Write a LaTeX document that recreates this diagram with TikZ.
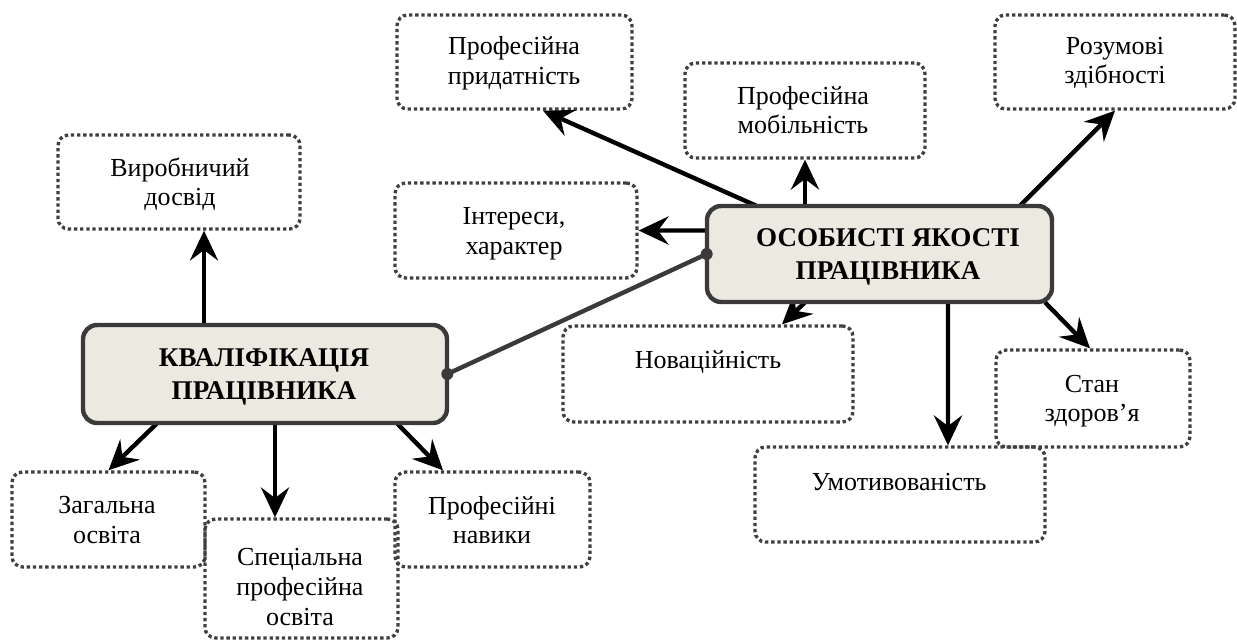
\documentclass[tikz,border=0pt]{standalone}
\usepackage{fontspec}
\setmainfont{Liberation Serif}
\usetikzlibrary{arrows.meta,calc}
\definecolor{mainfill}{RGB}{236,234,224}
\definecolor{mainedge}{RGB}{58,58,58}
\definecolor{dotedge}{RGB}{64,64,64}
\tikzset{
  dbox/.style={draw=dotedge, line width=1.9pt, dash pattern=on 1.9pt off 1.6pt, rounded corners=6pt, inner sep=0pt},
  mbox/.style={draw=mainedge, fill=mainfill, line width=2.5pt, rounded corners=8pt, inner sep=0pt},
  txt/.style={align=center, font=\fontsize{14.8pt}{16.8pt}\selectfont, inner sep=0pt},
  btxt/.style={align=center, font=\fontsize{15.4pt}{19pt}\selectfont\bfseries, inner sep=0pt},
  arr/.style={line width=2.5pt, -{Stealth[length=17pt,width=16pt,inset=6pt]}},
  link/.style={draw=mainedge, line width=2.5pt},
}
\begin{document}
\begin{tikzpicture}[x=0.02cm,y=-0.02cm]
\useasboundingbox (0,0) rectangle (1237,639);
% dotted boxes
\node[dbox, minimum width=4.70cm, minimum height=1.88cm] (pp) at (514.5,62) {};
\node[dbox, minimum width=4.80cm, minimum height=1.90cm] (pm) at (805,110.5) {};
\node[dbox, minimum width=4.80cm, minimum height=1.88cm] (rz) at (1115,62) {};
\node[dbox, minimum width=4.84cm, minimum height=1.88cm] (vd) at (179,182) {};
\node[dbox, minimum width=4.84cm, minimum height=1.90cm] (int) at (516,230.5) {};
\node[dbox, minimum width=5.80cm, minimum height=1.92cm] (nov) at (708,374) {};
\node[dbox, minimum width=3.88cm, minimum height=1.94cm] (stan) at (1093,398.5) {};
\node[dbox, minimum width=5.80cm, minimum height=1.90cm] (um) at (900,494.5) {};
\node[dbox, minimum width=3.86cm, minimum height=1.90cm] (zag) at (108.5,519.5) {};
\node[dbox, minimum width=3.90cm, minimum height=1.90cm] (pn) at (492.5,519.5) {};
\node[dbox, minimum width=3.86cm, minimum height=2.38cm] (sp) at (301.5,578.5) {};
% main boxes (shapes only, drawn later on top of arrows)
\path (265,374) node[minimum width=7.28cm, minimum height=1.96cm, inner sep=0pt] (kv) {};
\path (879.5,254) node[minimum width=6.90cm, minimum height=1.92cm, inner sep=0pt] (os) {};
% arrows
\draw[arr] ($(kv.north)+(-61,0)$) -- ($(vd.south)+(25,0)$);
\draw[arr] ($(kv.south)+(-108,0)$) -- (zag.north);
\draw[arr] ($(kv.south)+(10,0)$) -- ($(sp.north)+(-26.5,0)$);
\draw[arr] ($(kv.south)+(132,0)$) -- ($(pn.north)+(-49.5,0)$);
\draw[arr] ($(os.west)+(0,-23.5)$) -- (int.east);
\draw[arr] ($(os.north)+(-123.5,0)$) -- ($(pp.south)+(28.5,0)$);
\draw[arr] ($(os.north)+(-74.5,0)$) -- (pm.south);
\draw[arr] ($(os.north)+(140.5,0)$) -- (rz.south);
\draw[arr] ($(os.south)+(-74.5,0)$) -- ($(nov.north)+(74,0)$);
\draw[arr] ($(os.south)+(68.5,0)$) -- ($(um.north)+(48,0)$);
\draw[arr] ($(os.south)+(165.5,0)$) -- ($(stan.north)+(-3,0)$);
% main boxes drawn
\node[mbox, minimum width=7.28cm, minimum height=1.96cm] (kvb) at (kv) {};
\node[mbox, minimum width=6.90cm, minimum height=1.92cm] (osb) at (os) {};
% link
\draw[link] (kv.east) -- (os.west);
\fill[mainedge] (kv.east) circle (6);
\fill[mainedge] (os.west) circle (6);
% texts
\node[btxt] (kvt) at (264,377) {КВАЛІФІКАЦІЯ\\ПРАЦІВНИКА};
\node[btxt] (ost) at (888,257) {ОСОБИСТІ ЯКОСТІ\\ПРАЦІВНИКА};
\node[txt] (ppt) at (514,63) {Професійна\\придатність};
\node[txt] (pmt) at (803,110) {Професійна\\мобільність};
\node[txt] (rzt) at (1115,63) {Розумові\\здібності};
\node[txt] (vdt) at (180,184) {Виробничий\\досвід};
\node[txt] (intt) at (514,234) {Інтереси,\\характер};
\node[txt, anchor=base] (novt) at (708,368) {Новаційність};
\node[txt, anchor=base] (umt) at (899,490) {Умотивованість};
\node[txt] (stant) at (1092,401) {Стан\\здоров’я};
\node[txt] (zagt) at (107,520) {Загальна\\освіта};
\node[txt] (spt) at (300,587) {Спеціальна\\професійна\\освіта};
\node[txt] (pnt) at (492,520) {Професійні\\навики};
\end{tikzpicture}
\end{document}
